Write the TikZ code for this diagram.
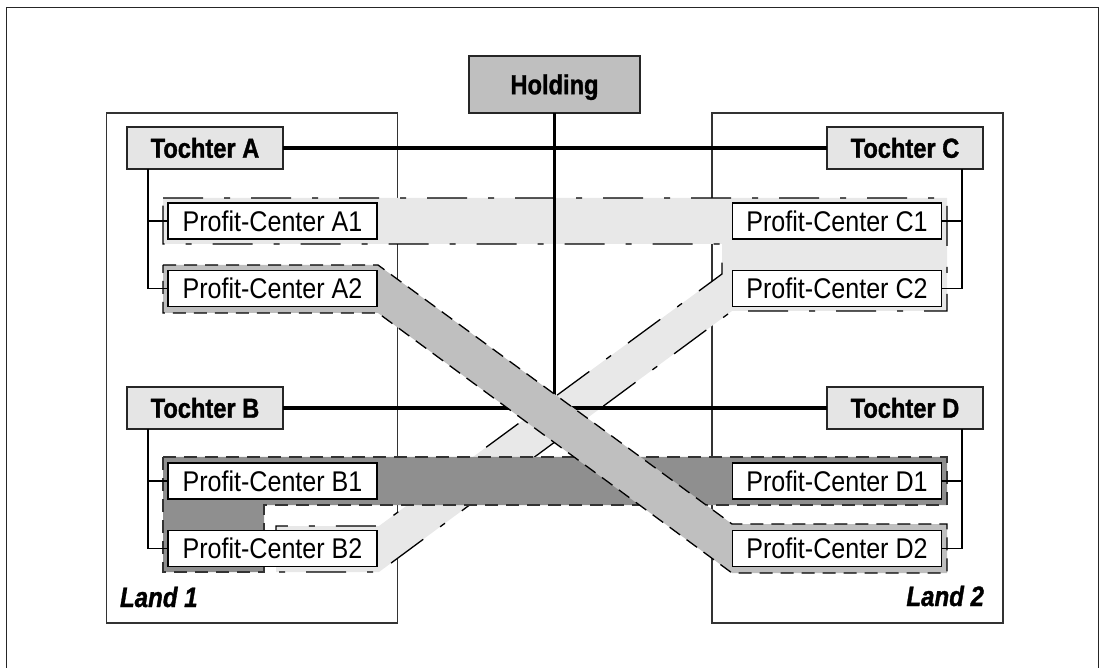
\documentclass[tikz,border=0pt]{standalone}
\usepackage{fontspec}
\setmainfont{Liberation Sans}[FakeStretch=0.88, BoldFeatures={FakeStretch=0.86, FakeBold=1.2}, BoldItalicFeatures={FakeStretch=0.86, FakeBold=1.2}]
\begin{document}
\begin{tikzpicture}[x=1pt,y=-1pt,
  every node/.style={inner sep=0pt, outer sep=0pt},
  landbox/.style={draw=black!80, line width=1.2pt, minimum width=291pt, minimum height=510pt},
  toch/.style={draw=black!85, line width=1.4pt, fill=black!10, minimum width=156pt, minimum height=42pt,
     font=\fontsize{27.5}{30}\selectfont\bfseries, text height=19.5pt, text depth=0pt},
  holdbox/.style={toch, fill=black!25, minimum width=171pt, minimum height=57pt},
  pcbox/.style={draw=black, line width=1.6pt, fill=white, minimum width=209pt, minimum height=36pt,
     font=\fontsize{28.5}{30}\selectfont, text height=20.3pt, text depth=0pt},
  mainline/.style={line width=3.2pt, black},
  thinline/.style={line width=1.1pt, black},
  lightband/.style={fill=black!9, draw=black, line width=1.3pt, dash pattern=on 40pt off 21pt on 6pt off 21pt},
  darkband/.style={fill=black!44, draw=black!80, line width=1.3pt, dash pattern=on 13pt off 8pt},
  midband/.style={fill=black!25, draw=black, line width=1.3pt, dash pattern=on 13pt off 8pt},
  landlabel/.style={font=\fontsize{28}{30}\selectfont\bfseries\itshape, text height=19pt, text depth=0pt}
]
\useasboundingbox (0,0) rectangle (1104,668);
% outer frame
\draw[line width=1.8pt, black!85] (6.5,672) -- (6.5,7.5) -- (1098.5,7.5) -- (1098.5,672);
% country frames
\node[landbox] (land1) at (252,368) {};
\node[landbox] (land2) at (857.5,368) {};
% light band (A1 - C1 - C2 - B2)
\path[lightband] (163,198) -- (947,198) -- (947,311) -- (732,311) -- (379,572) -- (276,572)
   -- (276,526) -- (379,526) -- (722,274) -- (722,244) -- (163,244) -- cycle;
% dark band (B1 - B2 - D1)
\path[darkband] (163,457) -- (947,457) -- (947,505) -- (264,505) -- (264,572) -- (163,572) -- cycle;
% holding and subsidiaries
\node[holdbox] (hold) at (554.5,84.5) {Holding};
\node[toch] (ta) at (205,148) {Tochter A};
\node[toch] (tb) at (205,408) {Tochter B};
\node[toch] (tc) at (905,148) {Tochter C};
\node[toch] (td) at (905,408) {Tochter D};
\draw[mainline] (ta.east) -- (tc.west);
\draw[mainline] (tb.east) -- (td.west);
\draw[mainline] (hold.south) -- (hold.south |- tb.east);
% medium band (A2 - D2)
\path[midband] (163,265) -- (378,265) -- (732,524) -- (947,524) -- (947,573) -- (732,573)
   -- (378,313) -- (163,313) -- cycle;
% profit centers
\node[pcbox] (pa1) at (272.5,221) {Profit-Center A1};
\node[pcbox] (pa2) at (272.5,288.5) {Profit-Center A2};
\node[pcbox] (pb1) at (272.5,481) {Profit-Center B1};
\node[pcbox] (pb2) at (272.5,548.5) {Profit-Center B2};
\node[pcbox] (pc1) at (837,221) {Profit-Center C1};
\node[pcbox] (pc2) at (837,288.5) {Profit-Center C2};
\node[pcbox] (pd1) at (837,481) {Profit-Center D1};
\node[pcbox] (pd2) at (837,548.5) {Profit-Center D2};
% tree connectors
\draw[thinline] (ta.south west) ++(21,0) coordinate (ja) |- (pa2.west);
\draw[thinline] (ja |- pa1.west) -- (pa1.west);
\draw[thinline] (tb.south west) ++(21,0) coordinate (jb) |- (pb2.west);
\draw[thinline] (jb |- pb1.west) -- (pb1.west);
\draw[thinline] (tc.south east) ++(-21,0) coordinate (jc) |- (pc2.east);
\draw[thinline] (jc |- pc1.east) -- (pc1.east);
\draw[thinline] (td.south east) ++(-21,0) coordinate (jd) |- (pd2.east);
\draw[thinline] (jd |- pd1.east) -- (pd1.east);
% country labels
\node[landlabel, anchor=base west] (l1) at (120,607) {Land 1};
\node[landlabel, anchor=base east] (l2) at (984,606) {Land 2};
\end{tikzpicture}
\end{document}
